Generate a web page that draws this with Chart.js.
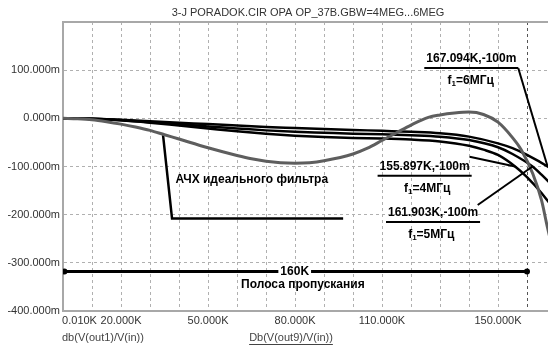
<!DOCTYPE html>
<html><head><meta charset="utf-8">
<script src="https://cdn.jsdelivr.net/npm/chart.js@4.4.1/dist/chart.umd.min.js"></script>
<style>
html,body{margin:0;padding:0;background:#fff;overflow:hidden;width:548px;height:352px}
#wrap{width:590px;height:352px;position:relative}
</style></head>
<body><div id="wrap"><canvas id="c" width="590" height="352"></canvas></div>
<script>
// ---------- data (x in kHz, y in milli-dB) ----------
const titleText = '3-J PORADOK.CIR OPA OP_37B.GBW=4MEG...6MEG';
const gridXValues = [0,10,20,30,40,50,60,70,80,90,100,110,120,130,140,150,160,170,180];
const xLabelValues = [5.7,20,50,80,110,150];
const xLabelTexts = ['0.010K','20.000K','50.000K','80.000K','110.000K','150.000K'];
const yTickValues = [-400,-300,-200,-100,0,100,200];
const yTickTexts = ['-400.000m','-300.000m','-200.000m','-100.000m','0.000m','100.000m',''];

const out1K  = [0,5,10,15,20,25,30,35,40,50,60,65,70,75,80,85,90,100,105,110,115,120,126,130,135,140,145,150,155,158,162,165,167,170,175];
const out1Db = [0,-1,-3,-7,-12,-18,-25,-34,-43,-61,-77,-84,-89,-92,-93,-92,-88,-74,-62,-46,-30,-14,2,7,11,13,8,-8,-40,-65,-115,-170,-225,-300,-420];

const gbw4K  = [0,10,20,30,40,50,60,70,80,90,100,110,120,130,140,145,150,155.897,160,165,170,175,180];
const gbw4Db = [0,-1,-4,-9,-15,-21,-27,-32,-36,-39,-41,-42,-44,-48,-57,-65,-76,-100,-122,-155,-195,-245,-300];
const gbw5K  = [0,10,20,30,40,50,60,70,80,90,100,110,120,130,140,150,155,161.903,165,170,175,180];
const gbw5Db = [0,-1,-4,-8,-12,-17,-21,-25,-28,-30,-32,-33,-35,-38,-45,-60,-74,-100,-117,-148,-185,-230];
const gbw6K  = [0,10,20,30,40,50,60,70,80,90,100,110,120,130,140,150,155,160,167.094,170,175,180];
const gbw6Db = [0,-1,-3,-6,-9,-12,-15,-18,-20,-22,-24,-26,-28,-31,-38,-52,-62,-76,-100,-112,-138,-168];

const idealK  = [34.5,37.6,96.6];
const idealDb = [-35,-208,-208];
const passK   = [0.5,160];
const passDb  = [-318,-318];

const markerK = [155.897,161.903,167.094];
const markerDb = [-100,-100,-100];
const markerTexts = ['155.897K,-100m','161.903K,-100m','167.094K,-100m'];
const markerFreqs = ['4МГц','5МГц','6МГц'];

// ---------- annotation layout (data units) ----------
const markerTextAt = [[124.7,-100.4],[127.6,-196.5],[140.8,123]];
const markerSubAt  = [[125.6,-146.7],[127.0,-242],[140.6,77.4]];
const markerFrom   = [[140.2,-79.7],[143.0,-180],[157.0,104]];
const idealLabel = 'АЧХ идеального фильтра';
const idealLabelAt = [65.1,-126.6];
const passLabel = '160K';
const passLabelAt = [79.9,-318];
const passCaption = 'Полоса пропускания';
const passCaptionAt = [82.7,-346];

const SANS = '"Liberation Sans",Arial,sans-serif';
const TXT = 11;

const pts = (xs, ys) => xs.map((v,i)=>({x:v,y:ys[i]}));

function line(data, color, width, extra){
  return Object.assign({data, borderColor:color, backgroundColor:color, borderWidth:width,
    pointRadius:0, showLine:true, fill:false, cubicInterpolationMode:'monotone'}, extra||{});
}

const annot = {
  id:'annot',
  beforeDraw(chart){
    const c = chart.ctx; c.save(); c.fillStyle='#fff'; c.fillRect(0,0,chart.width,chart.height); c.restore();
  },
  afterDatasetsDraw(chart){
    const {ctx:c, scales:{x,y}, chartArea:ca} = chart;
    const px=v=>x.getPixelForValue(v), py=v=>y.getPixelForValue(v);
    c.save();
    // top border
    c.strokeStyle='#a8a8a8'; c.lineWidth=2; c.setLineDash([]);
    c.beginPath(); c.moveTo(ca.left, ca.top); c.lineTo(ca.right, ca.top); c.stroke();

    c.fillStyle='#000'; c.strokeStyle='#000';
    c.textBaseline='middle'; c.textAlign='center';
    // marker labels
    for(let i=0;i<markerK.length;i++){
      c.font='bold 12px '+SANS;
      const tx=px(markerTextAt[i][0]), ty=py(markerTextAt[i][1]);
      c.fillText(markerTexts[i], tx, ty);
      const w=c.measureText(markerTexts[i]).width;
      c.lineWidth=2;
      c.beginPath(); c.moveTo(tx-w/2-2, ty+9); c.lineTo(tx+w/2+2, ty+9); c.stroke();
      // pointer
      c.beginPath(); c.moveTo(px(markerFrom[i][0]), py(markerFrom[i][1]));
      c.lineTo(px(markerK[i]), py(markerDb[i])); c.stroke();
      // f1=...
      const sx=px(markerSubAt[i][0]), sy=py(markerSubAt[i][1]);
      c.font='bold 12px '+SANS; const wf=c.measureText('f').width;
      const rest='='+markerFreqs[i]; const wr=c.measureText(rest).width;
      c.font='bold 8px '+SANS; const w1=c.measureText('1').width;
      const tot=wf+w1+wr; let cx=sx-tot/2;
      c.textAlign='left';
      c.font='bold 12px '+SANS; c.fillText('f', cx, sy); cx+=wf;
      c.font='bold 8px '+SANS; c.fillText('1', cx, sy+3); cx+=w1;
      c.font='bold 12px '+SANS; c.fillText(rest, cx, sy);
      c.textAlign='center';
    }
    // ideal label
    c.font='bold 12px '+SANS;
    c.fillText(idealLabel, px(idealLabelAt[0]), py(idealLabelAt[1]));
    // passband label with white backdrop
    const lx=px(passLabelAt[0]), ly=py(passLabelAt[1]);
    const lw=c.measureText(passLabel).width;
    c.fillStyle='#fff'; c.fillRect(lx-lw/2-2, ly-7, lw+4, 14);
    c.fillStyle='#000'; c.fillText(passLabel, lx, ly);
    c.fillText(passCaption, px(passCaptionAt[0]), py(passCaptionAt[1]));

    // title
    c.font=TXT+'px '+SANS; c.fillStyle='#333';
    c.fillText(titleText, 308, 13);
    // trace names under axis
    c.textAlign='left'; c.fillStyle='#444';
    c.fillText('db(V(out1)/V(in))', 62, 338);
    c.textAlign='center';
    const t2='Db(V(out9)/V(in))'; const w2=c.measureText(t2).width;
    c.fillText(t2, 291, 338);
    c.strokeStyle='#444'; c.lineWidth=1;
    c.beginPath(); c.moveTo(291-w2/2, 344.5); c.lineTo(291+w2/2, 344.5); c.stroke();
    c.restore();
  }
};

new Chart(document.getElementById('c'), {
  type:'scatter',
  data:{datasets:[
    line(pts(out1K,out1Db), '#5e5e5e', 3),
    line(pts(gbw4K,gbw4Db), '#000', 2.5),
    line(pts(gbw5K,gbw5Db), '#000', 2.5),
    line(pts(gbw6K,gbw6Db), '#000', 2.5),
    line(pts(idealK,idealDb), '#000', 2.5, {cubicInterpolationMode:'default', tension:0}),
    line(pts(passK,passDb), '#000', 3, {cubicInterpolationMode:'default', tension:0, pointRadius:3, pointBorderWidth:0})
  ]},
  options:{
    responsive:false, animation:false, devicePixelRatio:1,
    layout:{padding:{top:22, right:5, left:0, bottom:0}},
    plugins:{legend:{display:false}, tooltip:{enabled:false}, title:{display:false}},
    scales:{
      x:{type:'linear', min:0, max:180,
        afterBuildTicks:s=>{ s.ticks = gridXValues.concat([xLabelValues[0]]).map(v=>({value:v})); },
        afterFit:s=>{ s.height=41; },
        grid:{drawTicks:false, lineWidth:1,
          color:ctx=>{ const v=ctx.tick && ctx.tick.value; if(gridXValues.indexOf(v)<0) return 'rgba(0,0,0,0)'; return v===160?'#555':'#b0b0b0'; }},
        border:{display:true, color:'#a8a8a8', width:2, dash:[3,3]},
        ticks:{autoSkip:false, maxRotation:0, padding:3, color:'#333', font:{family:SANS, size:TXT},
          callback:v=>{ const i=xLabelValues.indexOf(v); return i<0?'':xLabelTexts[i]; }}
      },
      y:{type:'linear', min:-400, max:200,
        afterBuildTicks:s=>{ s.ticks = yTickValues.map(v=>({value:v})); },
        afterFit:s=>{ s.width=63; },
        grid:{drawTicks:false, color:'#b0b0b0', lineWidth:1},
        border:{display:true, color:'#a8a8a8', width:2, dash:[3,3]},
        ticks:{padding:3, color:'#333', font:{family:SANS, size:TXT},
          callback:v=>{ const i=yTickValues.indexOf(v); return i<0?'':yTickTexts[i]; }}
      }
    }
  },
  plugins:[annot]
});
</script>
</body></html>
